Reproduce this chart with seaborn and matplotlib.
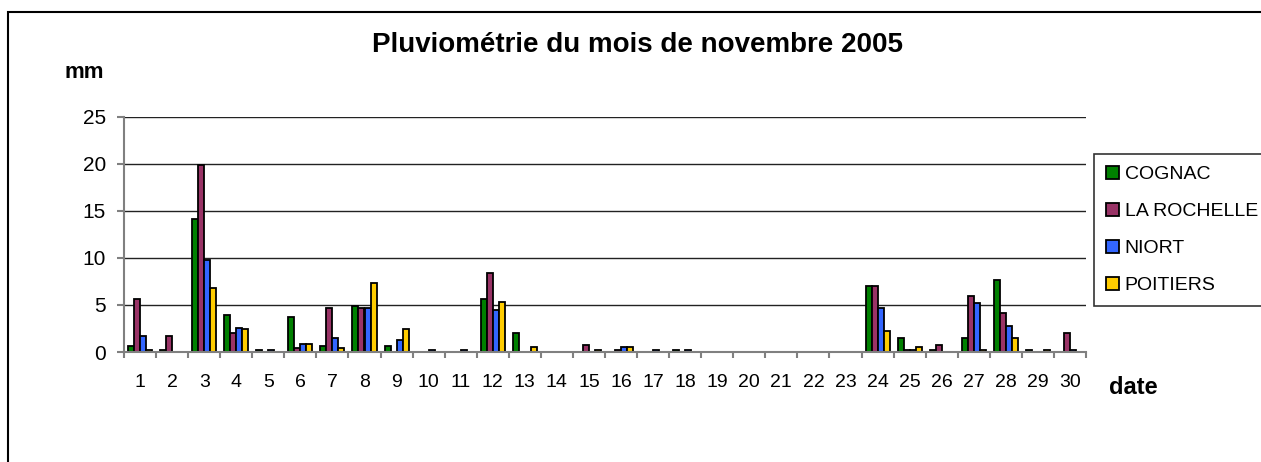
import numpy as np
import pandas as pd
import matplotlib
matplotlib.use("Agg")
import matplotlib.pyplot as plt
import seaborn as sns
from matplotlib.patches import Rectangle

days = list(range(1, 31))
stations = ["COGNAC", "LA ROCHELLE", "NIORT", "POITIERS"]
cognac = [0.6, 0.2, 14.1, 3.9, 0.2, 3.7, 0.6, 4.9, 0.6, 0, 0, 5.6, 2.0, 0, 0,
          0, 0, 0.2, 0, 0, 0, 0, 0, 7.0, 1.5, 0.2, 1.5, 7.7, 0.2, 0]
la_rochelle = [5.6, 1.7, 19.9, 2.0, 0, 0.4, 4.7, 4.7, 0, 0, 0, 8.4, 0, 0, 0.7,
               0.2, 0, 0, 0, 0, 0, 0, 0, 7.0, 0.2, 0.7, 6.0, 4.1, 0, 2.0]
niort = [1.7, 0, 9.8, 2.6, 0.2, 0.8, 1.5, 4.7, 1.3, 0.2, 0.2, 4.5, 0, 0, 0,
         0.5, 0.2, 0.2, 0, 0, 0, 0, 0, 4.7, 0.2, 0, 5.2, 2.8, 0, 0.2]
poitiers = [0.2, 0, 6.8, 2.4, 0, 0.8, 0.4, 7.3, 2.4, 0, 0, 5.3, 0.5, 0, 0.2,
            0.5, 0, 0, 0, 0, 0, 0, 0, 2.2, 0.5, 0, 0.2, 1.5, 0.2, 0]
colors = ["#008000", "#993366", "#3366FF", "#FFCC00"]
yticks = [0, 5, 10, 15, 20, 25]

sns.set_theme(style="white")
plt.rcParams["font.family"] = ["Liberation Sans", "DejaVu Sans"]
plt.rcParams["text.color"] = "black"
plt.rcParams["axes.labelcolor"] = "black"
plt.rcParams["xtick.color"] = "black"
plt.rcParams["ytick.color"] = "black"

df = pd.DataFrame({
    "date": np.tile(days, 4),
    "mm": cognac + la_rochelle + niort + poitiers,
    "station": np.repeat(stations, len(days)),
})

W, H = 1261, 462
fig = plt.figure(figsize=(W / 100, H / 100), dpi=100)
ax = fig.add_axes([124 / W, 1 - 352 / H, (1086 - 124) / W, (352 - 117) / H])

sns.barplot(data=df, x="date", y="mm", hue="station", hue_order=stations,
            palette=colors, width=0.75, edgecolor="black", linewidth=1.3,
            saturation=1, errorbar=None, ax=ax)

for p in ax.patches:
    if p.get_height() == 0:
        p.set_linewidth(0)

ax.set_xlim(-0.5, len(days) - 0.5)
ax.set_ylim(0, 25)
ax.set_yticks(yticks)
ax.set_xlabel("")
ax.set_ylabel("")
ax.set_axisbelow(True)
ax.yaxis.grid(True, color="#222222", lw=1)
ax.xaxis.grid(False)
for s in ["top", "right"]:
    ax.spines[s].set_visible(False)
for s in ["left", "bottom"]:
    ax.spines[s].set_color("#808080")
    ax.spines[s].set_linewidth(1.5)

ax.set_xticks(np.arange(-0.5, len(days), 1), minor=True)
ax.tick_params(axis="x", which="major", length=0, pad=16, labelsize=14,
               labelcolor="black")
ax.tick_params(axis="x", which="minor", length=4, width=1.5, color="#808080", bottom=True)
ax.tick_params(axis="y", which="major", length=5, width=1.5, color="#808080",
               left=True, pad=8, labelsize=15, labelcolor="black")

handles, labels = ax.get_legend_handles_labels()
ax.get_legend().remove()
for h in handles:
    h.set_edgecolor("black")
    h.set_linewidth(1.3)
leg = fig.legend(handles, labels, loc="upper left",
                 bbox_to_anchor=(1094 / W, 1 - 154 / H), frameon=True,
                 fancybox=False, edgecolor="black", fontsize=14,
                 handlelength=0.7, handleheight=0.7, handletextpad=0.28,
                 labelspacing=1.0, borderpad=0.6, borderaxespad=0)
leg.get_frame().set_linewidth(1.2)
for t in leg.get_texts():
    t.set_color("black")

fig.text(637 / W, 1 - 45 / H, "Pluviométrie du mois de novembre 2005",
         ha="center", va="center", fontsize=20, fontweight="bold", color="black")
fig.text(84 / W, 1 - 72 / H, "mm", ha="center", va="center",
         fontsize=16, fontweight="bold", color="black")
fig.text(1133 / W, 1 - 388 / H, "date", ha="center", va="center",
         fontsize=17, fontweight="bold", color="black")

fig.patches.append(Rectangle((8 / W, -0.1), 1.2, 1.1 - 12 / H,
                             transform=fig.transFigure, fill=False,
                             edgecolor="black", lw=1.5))

fig.savefig("out.png", dpi=100)
